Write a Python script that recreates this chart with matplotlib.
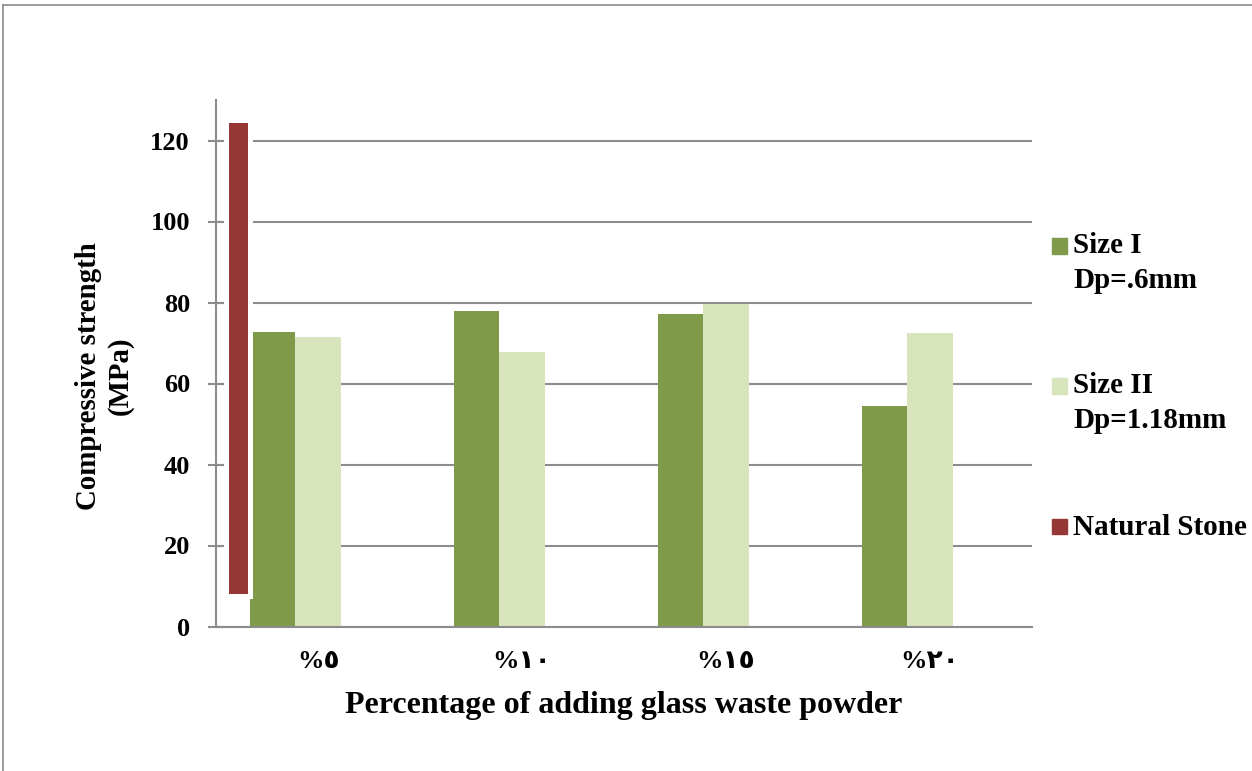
import matplotlib
matplotlib.use("Agg")
import matplotlib.pyplot as plt
import matplotlib.patheffects as pe
from matplotlib.patches import Rectangle
from matplotlib.lines import Line2D
import numpy as np

# 圧縮強度 (MPa)
categories = ["%٥", "%١٠", "%١٥", "%٢٠"]
size1 = [72.8, 77.9, 77.2, 54.4]   # Size I, Dp=.6mm
size2 = [71.6, 67.8, 79.6, 72.5]   # Size II, Dp=1.18mm
stone_bottom = 8.0                 # Natural Stone
stone_top = 124.3

legend_labels = ["Size I\nDp=.6mm", "Size II\nDp=1.18mm", "Natural Stone"]
colors = ["#7f9b4a", "#d8e4bc", "#953735"]
grey = "#8c8c8c"

W, H = 1252, 771
plt.rcParams['font.family'] = ['Liberation Serif', 'DejaVu Sans']
plt.rcParams['font.weight'] = 'bold'

fig = plt.figure(figsize=(W / 100, H / 100), dpi=100)
ax = fig.add_axes([216 / W, 1 - 626.5 / H, (1032 - 216) / W, (626.5 - 100) / H])

x = np.arange(len(categories))
bw = 0.223
ax.bar(x - bw, size1, bw, color=colors[0], zorder=2)
ax.bar(x, size2, bw, color=colors[1], zorder=2)
# 天然石は白い縁取りつきの棒
ax.bar(x[0] - 0.39, stone_top - stone_bottom, 0.097, bottom=stone_bottom,
       color=colors[2], zorder=3,
       path_effects=[pe.withStroke(linewidth=7.2, foreground="white")])

ax.set_xlim(-0.5, 3.5)
ax.set_ylim(0, 130)
ax.set_yticks(np.arange(0, 121, 20))
ax.set_xticks(x)
ax.set_xticklabels(categories, fontsize=19, fontweight='bold')
ax.tick_params(axis='x', length=0, pad=17)
ax.tick_params(axis='y', direction='inout', length=11.5, width=1.5, color=grey,
               labelsize=19, pad=13)
ax.yaxis.grid(True, color=grey, linewidth=1.5, zorder=1)
ax.set_axisbelow(True)
for s in ['top', 'right']:
    ax.spines[s].set_visible(False)
for s in ['left', 'bottom']:
    ax.spines[s].set_color(grey)
    ax.spines[s].set_linewidth(1.5)

ax.set_ylabel("Compressive strength\n(MPa)", fontsize=20.8, fontweight='bold',
              linespacing=1.2)
ax.yaxis.set_label_coords((134 - 216) / 816, (626.5 - 376) / 526.5)
ax.set_xlabel("Percentage of adding glass waste powder", fontsize=23,
              fontweight='bold')
ax.xaxis.set_label_coords((624 - 216) / 816, (626.5 - 706) / 526.5)
ax.xaxis.label.set_va('center')

# 凡例
for i, (lab, c) in enumerate(zip(legend_labels, colors)):
    ytop = 238.5 + 140 * i
    nlines = lab.count("\n")
    fig.add_artist(Rectangle((1052 / W, 1 - (ytop + 15) / H), 15 / W, 15 / H,
                             transform=fig.transFigure, color=c))
    fig.text(1073 / W, 1 - (ytop + 16.5 + 33 * nlines) / H, lab, fontsize=21,
             fontweight='bold', va='baseline', ha='left', linespacing=1.36)

# 外枠
fig.add_artist(Line2D([3 / W, 3 / W], [0, 1 - 5 / H], color=grey, lw=1.2,
                      transform=fig.transFigure))
fig.add_artist(Line2D([3 / W, 1], [1 - 5 / H, 1 - 5 / H], color=grey, lw=1.2,
                      transform=fig.transFigure))

plt.savefig("out.png", dpi=100)
